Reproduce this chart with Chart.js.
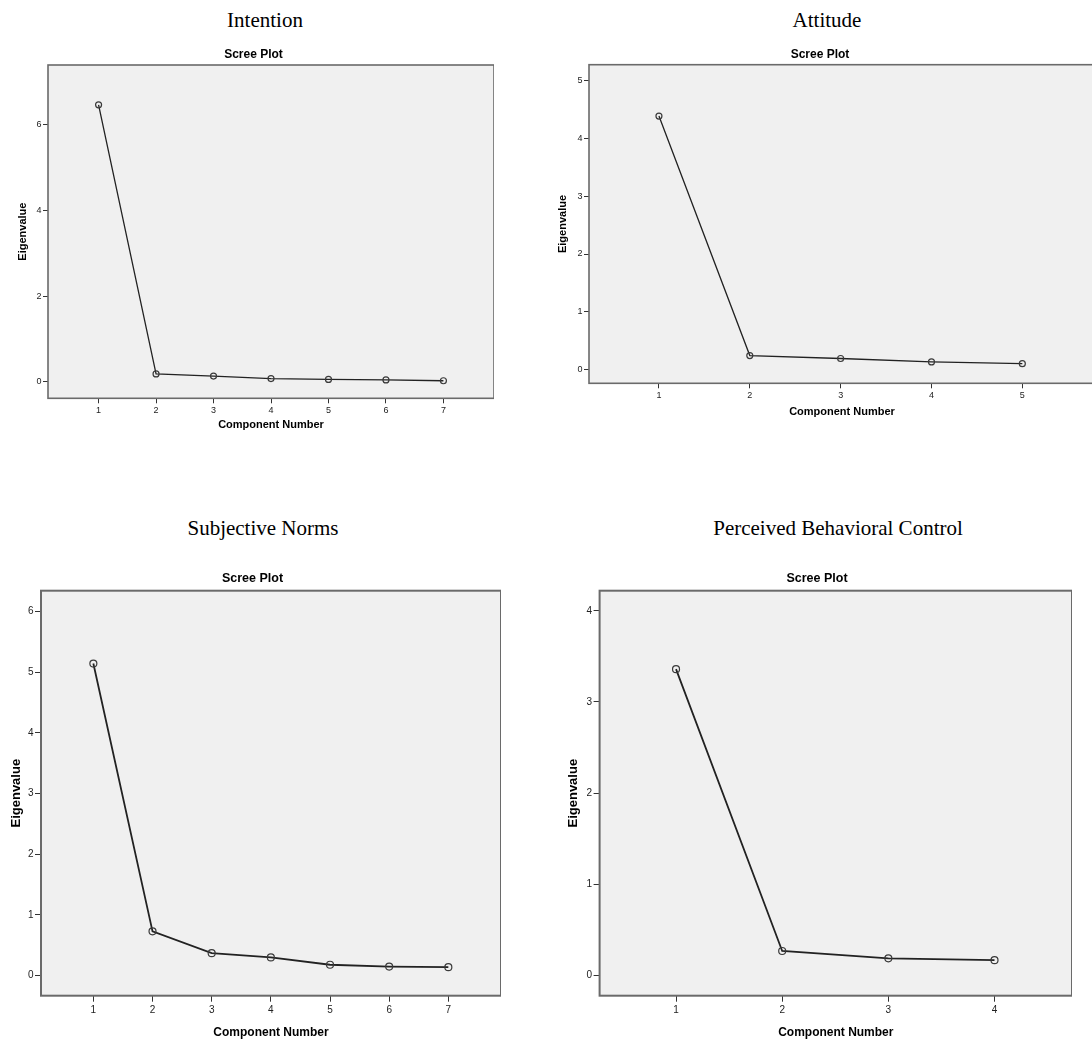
<!DOCTYPE html>
<html>
<head>
<meta charset="utf-8">
<script src="https://cdn.jsdelivr.net/npm/chart.js@4/dist/chart.umd.min.js"></script>
<style>
  body { margin: 0; width: 1092px; height: 1044px; overflow: hidden; background: #fff; position: relative; }
  .hdr { position: absolute; font-family: "Liberation Serif", "Times New Roman", serif; font-size: 21px; color: #000; transform: translate(-50%, -50%); white-space: nowrap; }
  canvas { position: absolute; }
</style>
</head>
<body>
<div class="hdr" style="left:265px; top:20px">Intention</div>
<div class="hdr" style="left:827px; top:20px">Attitude</div>
<div class="hdr" style="left:263px; top:528px">Subjective Norms</div>
<div class="hdr" style="left:838px; top:528px">Perceived Behavioral Control</div>

<canvas id="intention" width="481" height="400" style="left:12.7px; top:40px"></canvas>
<canvas id="attitude" width="550" height="400" style="left:545px; top:40px"></canvas>
<canvas id="norms" width="497" height="484" style="left:4.3px; top:560px"></canvas>
<canvas id="control" width="510" height="484" style="left:561.7px; top:560px"></canvas>

<script>
// eigenvalues
const intentionComponents = [1, 2, 3, 4, 5, 6, 7];
const intentionEigenvalues = [6.47, 0.18, 0.13, 0.07, 0.05, 0.04, 0.02];
const intentionYTicks = [0, 2, 4, 6];

const attitudeComponents = [1, 2, 3, 4, 5];
const attitudeEigenvalues = [4.39, 0.24, 0.19, 0.13, 0.10];
const attitudeYTicks = [0, 1, 2, 3, 4, 5];

const normsComponents = [1, 2, 3, 4, 5, 6, 7];
const normsEigenvalues = [5.14, 0.73, 0.37, 0.30, 0.18, 0.15, 0.14];
const normsYTicks = [0, 1, 2, 3, 4, 5, 6];

const controlComponents = [1, 2, 3, 4];
const controlEigenvalues = [3.36, 0.27, 0.19, 0.17];
const controlYTicks = [0, 1, 2, 3, 4];

const FONT = '"Liberation Sans", Arial, sans-serif';

// grey plot area with a frame, like SPSS
const framePlugin = {
  id: 'frame',
  beforeDatasetsDraw(chart) {
    const { ctx, chartArea: a } = chart;
    const w = chart.options.plugins.frame.width;
    ctx.save();
    ctx.fillStyle = '#f0f0f0';
    ctx.fillRect(a.left, a.top, a.width, a.height);
    ctx.strokeStyle = '#6a6a6a';
    ctx.lineWidth = w;
    ctx.strokeRect(a.left, a.top, a.width, a.height);
    ctx.restore();
  }
};

function scree(id, comps, eig, yTicks, s) {
  const points = comps.map((c, i) => ({ x: c, y: eig[i] }));
  return new Chart(document.getElementById(id), {
    type: 'line',
    data: {
      datasets: [{
        data: points,
        borderColor: '#222',
        borderWidth: s.lw,
        pointRadius: s.pr,
        pointBorderColor: '#3a3a3a',
        pointBackgroundColor: 'rgba(0,0,0,0)',
        pointBorderWidth: 1.2,
        tension: 0
      }]
    },
    options: {
      responsive: false,
      animation: false,
      events: [],
      layout: { padding: 0, autoPadding: false },
      plugins: {
        legend: { display: false },
        tooltip: { enabled: false },
        frame: { width: s.frameW },
        title: {
          display: true,
          text: 'Scree Plot',
          color: '#000',
          font: { family: FONT, size: s.titleSize, weight: 'bold', lineHeight: 1.2 },
          padding: { top: s.titleTop, bottom: s.titleBottom }
        }
      },
      scales: {
        x: {
          type: 'linear',
          min: s.xMin,
          max: s.xMax,
          afterBuildTicks: a => { a.ticks = comps.map(v => ({ value: v })); },
          afterFit: a => { a.height = s.xH; },
          border: { display: false },
          grid: { drawOnChartArea: false, drawTicks: true, tickLength: s.tick, color: '#333', lineWidth: 1 },
          ticks: { color: '#222', padding: s.xTickPad, font: { family: FONT, size: s.tickSize } },
          title: {
            display: true,
            text: 'Component Number',
            color: '#000',
            font: { family: FONT, size: s.axisSize, weight: 'bold', lineHeight: 1.2 },
            padding: { top: 0, bottom: s.xTitleBottom }
          }
        },
        y: {
          type: 'linear',
          min: s.yMin,
          max: s.yMax,
          afterBuildTicks: a => { a.ticks = yTicks.map(v => ({ value: v })); },
          afterFit: a => { a.width = s.yW; },
          border: { display: false },
          grid: { drawOnChartArea: false, drawTicks: true, tickLength: s.tick, color: '#333', lineWidth: 1 },
          ticks: { color: '#222', padding: 1.5, font: { family: FONT, size: s.tickSize } },
          title: {
            display: true,
            text: 'Eigenvalue',
            color: '#000',
            font: { family: FONT, size: s.yAxisSize, weight: 'bold', lineHeight: 1.2 },
            padding: { top: s.yTitleTop, bottom: 0 }
          }
        }
      }
    },
    plugins: [framePlugin]
  });
}

scree('intention', intentionComponents, intentionEigenvalues, intentionYTicks, {
  xMin: 0.12, xMax: 7.88, yMin: -0.39, yMax: 7.40,
  yW: 35, xH: 41.7,
  titleSize: 12, titleTop: 7.8, titleBottom: 2.8,
  axisSize: 11, yAxisSize: 11, tickSize: 9, tick: 5,
  xTickPad: 1.5, xTitleBottom: 8.4, yTitleTop: 3.7,
  lw: 1.3, pr: 3, frameW: 1.6
});

scree('attitude', attitudeComponents, attitudeEigenvalues, attitudeYTicks, {
  xMin: 0.23, xMax: 5.8, yMin: -0.24, yMax: 5.28,
  yW: 44, xH: 56.7,
  titleSize: 12, titleTop: 7.5, titleBottom: 2.8,
  axisSize: 11, yAxisSize: 11, tickSize: 9, tick: 5,
  xTickPad: 1.5, xTitleBottom: 21.4, yTitleTop: 11.2,
  lw: 1.3, pr: 3, frameW: 1.6
});

scree('norms', normsComponents, normsEigenvalues, normsYTicks, {
  xMin: 0.115, xMax: 7.89, yMin: -0.33, yMax: 6.34,
  yW: 37, xH: 48.3,
  titleSize: 12.5, titleTop: 10.8, titleBottom: 4.9,
  axisSize: 12, yAxisSize: 13, tickSize: 10, tick: 6,
  xTickPad: 3, xTitleBottom: 3.8, yTitleTop: 4.6,
  lw: 1.8, pr: 3.5, frameW: 2
});

scree('control', controlComponents, controlEigenvalues, controlYTicks, {
  xMin: 0.28, xMax: 4.73, yMin: -0.22, yMax: 4.22,
  yW: 37.6, xH: 48.3,
  titleSize: 12.5, titleTop: 10.8, titleBottom: 4.9,
  axisSize: 12, yAxisSize: 13, tickSize: 10, tick: 6,
  xTickPad: 3, xTitleBottom: 3.8, yTitleTop: 3.5,
  lw: 1.8, pr: 3.5, frameW: 2
});
</script>
</body>
</html>
